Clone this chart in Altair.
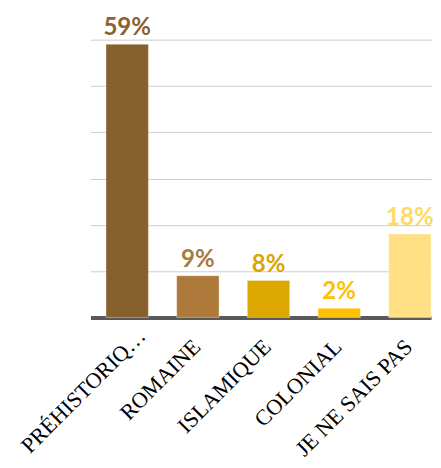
import altair as alt
import pandas as pd

categories = ["PRÉHISTORIQ…", "ROMAINE", "ISLAMIQUE", "COLONIAL", "JE NE SAIS PAS"]
values = [59, 9, 8, 2, 18]
bar_colors = ["#86602D", "#AD7A3B", "#DBA700", "#FFC000", "#FFE085"]
text_colors = ["#8B6230", "#A87A3F", "#D9A600", "#FFC000", "#FFD966"]
y_ticks = [0, 10, 20, 30, 40, 50, 60]

df = pd.DataFrame({
    "cat": categories,
    "val": values,
    "label": [f"{v}%" for v in values],
    "bar_color": bar_colors,
    "text_color": text_colors,
})

first_test = f"datum.value == '{categories[0]}'"

x = alt.X(
    "cat:N",
    sort=categories,
    title=None,
    scale=alt.Scale(paddingInner=0.4, paddingOuter=0.11, align=1),
    axis=alt.Axis(
        labelAngle=-45,
        labelAlign="right",
        labelBaseline="middle",
        labelFont="Liberation Serif",
        labelFontSize=22.5,
        labelColor="#000000",
        labelPadding={"condition": {"test": first_test, "value": 15}, "value": 26},
        labelOffset={"condition": {"test": first_test, "value": 15}, "value": -1},
        labelLimit=300,
        ticks=False,
        domainColor="#595959",
        domainWidth=4,
        grid=False,
    ),
)

y = alt.Y(
    "val:Q",
    title=None,
    scale=alt.Scale(domain=[0, 60], nice=False),
    axis=alt.Axis(
        values=y_ticks,
        labels=False,
        ticks=False,
        domain=False,
        grid=True,
        gridColor="#CCCCCC",
        gridWidth=1,
    ),
)

base = alt.Chart(df)

bars = base.mark_bar(stroke="white", strokeOpacity=0.35, strokeWidth=1).encode(
    x=x,
    y=y,
    color=alt.Color("bar_color:N", scale=None, legend=None),
)

texts = base.mark_text(
    font="Lato",
    fontWeight="bold",
    fontSize=24.5,
    baseline="alphabetic",
    align="center",
    dy=-9,
).encode(
    x=alt.X("cat:N", sort=categories),
    y=alt.Y("val:Q"),
    text="label:N",
    color=alt.Color("text_color:N", scale=None, legend=None),
)

chart = (
    alt.layer(bars, texts)
    .properties(
        width=347,
        height=283,
        autosize=alt.AutoSizeParams(type="none"),
        padding={"left": 84, "top": 28, "right": 2, "bottom": 141},
    )
    .configure_view(stroke=None)
    .configure_axis(domainCap="butt")
)

chart.save("out.html", embed_options={"renderer": "svg", "actions": False})
